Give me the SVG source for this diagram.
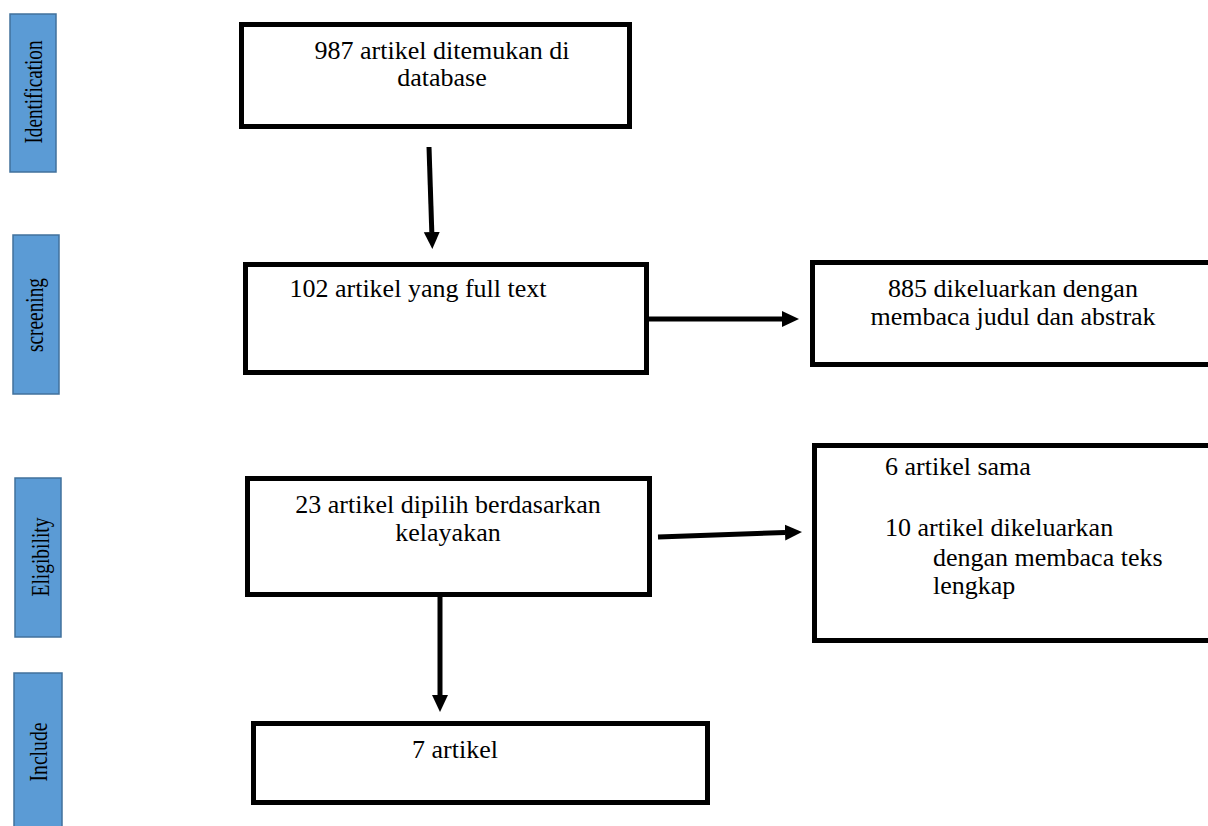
<svg xmlns="http://www.w3.org/2000/svg" width="1208" height="826" viewBox="0 0 1208 826">
<defs>
<style>
.box{fill:#fff;stroke:#000;stroke-width:5}
.stage{fill:#5B9BD5;stroke:#41719C;stroke-width:1.5}
.ln{stroke:#000;stroke-width:5;fill:none;marker-end:url(#ah)}
</style>
<marker id="ah" markerUnits="userSpaceOnUse" markerWidth="17" markerHeight="17" refX="0" refY="8" orient="auto" viewBox="0 0 17 16">
<path d="M0,0 L17,8 L0,16 z" fill="#000"/>
</marker>
</defs>
<rect width="1208" height="826" fill="#fff"/>

<g font-family="'Liberation Serif', 'Times New Roman', serif" fill="#000">
<g id="stage-identification">
<rect class="stage" x="10" y="14" width="46" height="158"/>
<text text-anchor="middle" font-size="26" transform="translate(42,92) rotate(-90)" textLength="103" lengthAdjust="spacingAndGlyphs">Identification</text>
</g>
<g id="stage-screening">
<rect class="stage" x="13" y="235" width="46" height="159"/>
<text text-anchor="middle" font-size="25" transform="translate(43,315) rotate(-90)" textLength="74" lengthAdjust="spacingAndGlyphs">screening</text>
</g>
<g id="stage-eligibility">
<rect class="stage" x="15" y="478" width="46" height="159"/>
<text text-anchor="middle" font-size="26" transform="translate(49,557) rotate(-90)" textLength="79" lengthAdjust="spacingAndGlyphs">Eligibility</text>
</g>
<g id="stage-include">
<rect class="stage" x="14" y="673" width="48" height="160"/>
<text text-anchor="middle" font-size="25" transform="translate(47,752) rotate(-90)" textLength="59" lengthAdjust="spacingAndGlyphs">Include</text>
</g>

<g font-size="26">
<g id="node-identified">
<rect class="box" x="241.5" y="24.5" width="388" height="102"/>
<text text-anchor="middle" x="442" y="59">987 artikel ditemukan di</text>
<text text-anchor="middle" x="442" y="86">database</text>
</g>
<g id="node-fulltext">
<rect class="box" x="245.5" y="264.5" width="401" height="108"/>
<text text-anchor="middle" x="418" y="297">102 artikel yang full text</text>
</g>
<g id="node-excluded1">
<rect class="box" x="812.5" y="262.5" width="410" height="102"/>
<text text-anchor="middle" x="1013" y="297">885 dikeluarkan dengan</text>
<text text-anchor="middle" x="1013" y="325">membaca judul dan abstrak</text>
</g>
<g id="node-eligible">
<rect class="box" x="247.5" y="478.5" width="402" height="116"/>
<text text-anchor="middle" x="448" y="513">23 artikel dipilih berdasarkan</text>
<text text-anchor="middle" x="448" y="541">kelayakan</text>
</g>
<g id="node-excluded2">
<rect class="box" x="814.5" y="445.5" width="410" height="195"/>
<text x="885" y="475">6 artikel sama</text>
<text x="885" y="536">10 artikel dikeluarkan</text>
<text x="933" y="566">dengan membaca teks</text>
<text x="933" y="594">lengkap</text>
</g>
<g id="node-included">
<rect class="box" x="253.5" y="723.5" width="454" height="79"/>
<text text-anchor="middle" x="455" y="758">7 artikel</text>
</g>
</g>
</g>

<g id="connectors">
<line class="ln" x1="429" y1="147" x2="431.8" y2="232"/>
<line class="ln" x1="649" y1="319" x2="782" y2="319"/>
<line class="ln" x1="658" y1="537" x2="785" y2="532.5"/>
<line class="ln" x1="440" y1="597" x2="440" y2="695"/>
</g>
</svg>
